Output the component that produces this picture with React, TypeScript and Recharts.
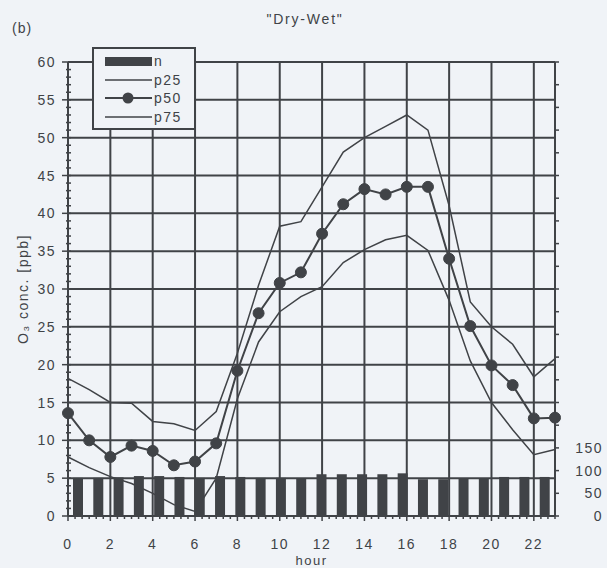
import { Bar, CartesianGrid, ComposedChart, Legend, Line, XAxis, YAxis } from 'recharts'

// hourly ozone percentiles and sample counts, "Dry-Wet" season
const HOURS = [0, 1, 2, 3, 4, 5, 6, 7, 8, 9, 10, 11, 12, 13, 14, 15, 16, 17, 18, 19, 20, 21, 22, 23]
const N_COUNT = [84, 84, 85, 88, 88, 86, 84, 88, 86, 84, 84, 82, 92, 92, 92, 92, 94, 81, 81, 83, 83, 86, 86, 86]
const P25 = [7.8, 6.4, 5.2, 4.3, 3.0, 1.5, 0.6, 5.0, 15.5, 23.0, 27.0, 29.0, 30.3, 33.5, 35.2, 36.5, 37.1, 35.1, 28.5, 20.5, 15.0, 11.4, 8.1, 8.8]
const P50 = [13.6, 10.0, 7.8, 9.3, 8.6, 6.7, 7.2, 9.6, 19.2, 26.8, 30.8, 32.2, 37.3, 41.2, 43.2, 42.5, 43.5, 43.5, 34.0, 25.1, 19.9, 17.3, 12.9, 13.0]
const P75 = [18.2, 16.7, 15.0, 14.9, 12.5, 12.2, 11.3, 13.8, 21.5, 30.5, 38.3, 38.9, 43.5, 48.1, 50.0, 51.5, 53.0, 51.0, 41.0, 28.3, 25.0, 22.7, 18.4, 20.8]

const HOUR_LABELS = [0, 2, 4, 6, 8, 10, 12, 14, 16, 18, 20, 22]
const PPB_LABELS = [0, 5, 10, 15, 20, 25, 30, 35, 40, 45, 50, 55, 60]
const N_LABELS = [0, 50, 100, 150]

// minor tick positions: every 20 min, every 1 ppb, every 50 counts
const HOUR_MINOR = Array.from({ length: 70 }, (_, i) => i / 3)
const PPB_MINOR = Array.from({ length: 61 }, (_, i) => i)
const N_MINOR = Array.from({ length: 21 }, (_, i) => i * 50)

const INK = '#404347'
const BG = '#f0f3f7'
const FONT = '"Liberation Sans", Arial, sans-serif'

const data = HOURS.map((hour, i) => ({ hour, n: N_COUNT[i], p25: P25[i], p50: P50[i], p75: P75[i] }))

const textStyle = { fontFamily: FONT, fontSize: 14, fill: INK, letterSpacing: 1.5 }

function HourTick({ x, y, payload }: any) {
  const v = payload.value
  const r = Math.round(v)
  const major = Math.abs(v - r) < 1e-6 && HOUR_LABELS.includes(r)
  return (
    <g>
      <line x1={x} x2={x} y1={y} y2={y + (major ? 5 : 3)} stroke={INK} strokeWidth={1.5} />
      {major && (
        <text x={x} y={y + 33} textAnchor="middle" style={textStyle}>
          {r}
        </text>
      )}
    </g>
  )
}

function PpbTick({ x, y, payload }: any) {
  const v = payload.value
  const major = PPB_LABELS.includes(v)
  return (
    <g>
      <line x1={x - (major ? 6 : 2)} x2={x + 3} y1={y} y2={y} stroke={INK} strokeWidth={1.5} />
      {major && (
        <text x={x - 12} y={y + 5} textAnchor="end" style={textStyle}>
          {v}
        </text>
      )}
    </g>
  )
}

function CountTick({ x, y, payload }: any) {
  const v = payload.value
  return (
    <g>
      <line x1={x} x2={x + 4} y1={y} y2={y} stroke={INK} strokeWidth={1.5} />
      {N_LABELS.includes(v) && (
        <text x={x + 48} y={y + 5} textAnchor="end" style={textStyle}>
          {v}
        </text>
      )}
    </g>
  )
}

function PpbLabel({ viewBox }: any) {
  const cx = viewBox.x + 23
  const cy = viewBox.y + viewBox.height / 2
  return (
    <text x={cx} y={cy} transform={`rotate(-90 ${cx} ${cy})`} textAnchor="middle" dominantBaseline="central" style={textStyle}>
      O₃ conc. [ppb]
    </text>
  )
}

function LegendBox() {
  const rows = [
    { label: 'n', y: 14 },
    { label: 'p25', y: 33 },
    { label: 'p50', y: 51 },
    { label: 'p75', y: 70 },
  ]
  return (
    <div style={{ width: 104, height: 83, border: `2px solid ${INK}`, background: BG, boxSizing: 'border-box' }}>
      <svg width={100} height={79} style={{ display: 'block' }}>
        {rows.map((row, i) => (
          <g key={row.label} transform={`translate(-2, ${row.y - 2})`}>
            {i === 0 ? (
              <rect x={13} y={-4} width={47} height={9} fill={INK} />
            ) : (
              <line x1={13} x2={60} y1={0} y2={0} stroke={INK} strokeWidth={i === 2 ? 2 : 1.5} />
            )}
            {i === 2 && <circle cx={36} cy={0} r={5.5} fill={INK} />}
            <text x={62} y={5} style={textStyle}>
              {row.label}
            </text>
          </g>
        ))}
      </svg>
    </div>
  )
}

export default function App() {
  return (
    <div style={{ position: 'absolute', left: 0, top: 0, width: 607, height: 568, background: BG }}>
      <div style={{ position: 'absolute', left: 12, top: 20, fontFamily: FONT, fontSize: 14, color: INK, letterSpacing: 1 }}>(b)</div>
      <div style={{ position: 'absolute', left: 0, width: 610, top: 11, textAlign: 'center', fontFamily: FONT, fontSize: 14, color: INK, letterSpacing: 1.8 }}>
        "Dry-Wet"
      </div>
      <ComposedChart width={607} height={568} data={data} margin={{ top: 62, right: 0, bottom: 0, left: 0 }}>
        <XAxis
          xAxisId="hour"
          type="number"
          dataKey="hour"
          domain={[0, 23]}
          ticks={HOUR_MINOR}
          interval={0}
          tick={<HourTick />}
          tickLine={false}
          tickSize={0}
          tickMargin={0}
          axisLine={{ stroke: INK, strokeWidth: 2 }}
          height={52}
          label={{ value: 'hour', position: 'insideBottom', offset: 3, style: { ...textStyle, fontSize: 13 } }}
        />
        <XAxis xAxisId="band" type="category" dataKey="hour" orientation="top" height={0} hide />
        <YAxis
          yAxisId="ppb"
          orientation="left"
          domain={[0, 60]}
          ticks={PPB_MINOR}
          interval={0}
          tick={<PpbTick />}
          tickLine={false}
          tickSize={0}
          tickMargin={0}
          axisLine={{ stroke: INK, strokeWidth: 2 }}
          width={68}
          label={<PpbLabel />}
        />
        <YAxis
          yAxisId="n"
          orientation="right"
          domain={[0, 1000]}
          ticks={N_MINOR}
          interval={0}
          tick={<CountTick />}
          tickLine={false}
          tickSize={0}
          tickMargin={0}
          axisLine={{ stroke: INK, strokeWidth: 2 }}
          width={52}
        />
        <CartesianGrid
          xAxisId="hour"
          yAxisId="ppb"
          verticalValues={HOUR_LABELS}
          horizontalValues={PPB_LABELS}
          stroke={INK}
          strokeWidth={2}
        />
        <Bar xAxisId="band" yAxisId="n" dataKey="n" barSize={10} fill={INK} isAnimationActive={false} />
        <Line xAxisId="hour" yAxisId="ppb" dataKey="p25" stroke={INK} strokeWidth={1.5} dot={false} activeDot={false} isAnimationActive={false} />
        <Line xAxisId="hour" yAxisId="ppb" dataKey="p75" stroke={INK} strokeWidth={1.5} dot={false} activeDot={false} isAnimationActive={false} />
        <Line
          xAxisId="hour"
          yAxisId="ppb"
          dataKey="p50"
          stroke={INK}
          strokeWidth={2}
          dot={{ r: 5.5, fill: INK, stroke: INK, strokeWidth: 1 }}
          activeDot={false}
          isAnimationActive={false}
        />
        <Legend
          layout="horizontal"
          align="center"
          verticalAlign="middle"
          content={<LegendBox />}
          wrapperStyle={{ position: 'absolute', left: 92, top: 47, width: 104, height: 83 }}
        />
      </ComposedChart>
    </div>
  )
}
